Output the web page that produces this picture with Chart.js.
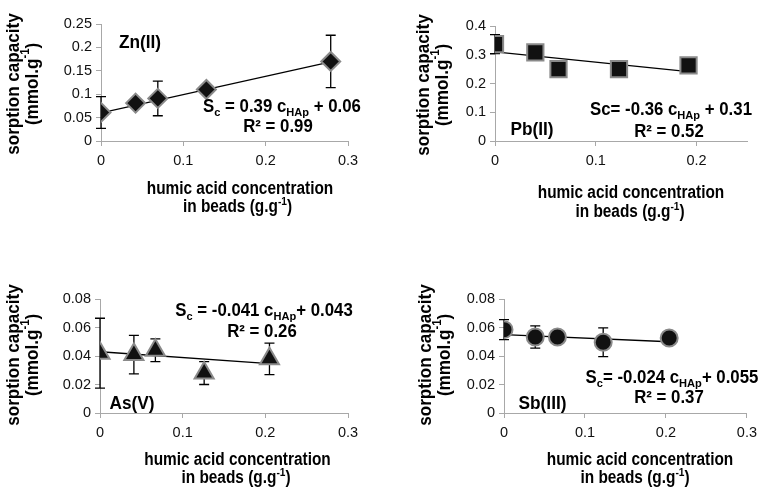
<!DOCTYPE html>
<html>
<head>
<meta charset="utf-8">
<script src="https://cdn.jsdelivr.net/npm/chart.js@4.4.1/dist/chart.umd.min.js"></script>
<style>
    html, body { margin: 0; padding: 0; background: #fff; }
    #wrap { position: relative; width: 763px; height: 488px; overflow: hidden; }
    .panel { position: absolute; }
</style>
</head>
<body>
<div id="wrap">
    <div class="panel" style="left:0;top:0;width:381px;height:244px"><canvas id="zn"></canvas></div>
    <div class="panel" style="left:381px;top:0;width:382px;height:244px"><canvas id="pb"></canvas></div>
    <div class="panel" style="left:0;top:244px;width:381px;height:244px"><canvas id="as"></canvas></div>
    <div class="panel" style="left:381px;top:244px;width:382px;height:244px"><canvas id="sb"></canvas></div>
</div>
<script>
// humic acid concentration in beads (g/g) and sorption capacity (mmol/g)
const znX = [0, 0.042, 0.069, 0.128, 0.279];
const znY = [0.061, 0.081, 0.091, 0.110, 0.170];
const znErr = [0.034, 0, 0.037, 0, 0.056];
const znTrendX = [0, 0.279];
const znTrendY = [0.060, 0.169];

const pbX = [0, 0.040, 0.063, 0.123, 0.192];
const pbY = [0.337, 0.308, 0.250, 0.250, 0.263];
const pbErr = [0.033, 0, 0, 0, 0];
const pbTrendX = [0, 0.192];
const pbTrendY = [0.310, 0.241];

const asX = [0, 0.041, 0.067, 0.126, 0.205];
const asY = [0.042, 0.041, 0.044, 0.028, 0.038];
const asErr = [0.0245, 0.0135, 0.008, 0.008, 0.011];
const asTrendX = [0, 0.205];
const asTrendY = [0.043, 0.0346];

const sbX = [0, 0.0386, 0.066, 0.1225, 0.204];
const sbY = [0.0585, 0.0533, 0.0533, 0.0496, 0.0526];
const sbErr = [0.007, 0.0078, 0, 0.0101, 0];
const sbTrendX = [0, 0.204];
const sbTrendY = [0.055, 0.050];

// tick labels
const xTicks = ['0', '0.1', '0.2', '0.3'];
const znYTicks = ['0', '0.05', '0.1', '0.15', '0.2', '0.25'];
const pbYTicks = ['0', '0.1', '0.2', '0.3', '0.4'];
const smallYTicks = ['0', '0.02', '0.04', '0.06', '0.08'];

const FONT = "'Liberation Sans', Arial, sans-serif";
const AXIS_GREY = '#a8a8a8';

function toPoints(xs, ys) {
    return xs.map((x, i) => ({ x: x, y: ys[i] }));
}

// draws a run of text pieces (sub / sup) centred on cx, sx squeezes it sideways
function drawRich(ctx, parts, cx, y, size, baseline, sx) {
    ctx.save();
    ctx.translate(cx, y);
    ctx.scale(sx || 1, 1);
    ctx.textBaseline = baseline || 'alphabetic';
    ctx.textAlign = 'left';
    let total = 0;
    parts.forEach(p => {
        const s = (p.sub || p.sup) ? size * 0.66 : size;
        ctx.font = 'bold ' + s + 'px ' + FONT;
        p.w = ctx.measureText(p.t).width;
        total += p.w;
    });
    let x = -total / 2;
    parts.forEach(p => {
        const s = (p.sub || p.sup) ? size * 0.66 : size;
        ctx.font = 'bold ' + s + 'px ' + FONT;
        let dy = 0;
        if (p.sub) dy = size * 0.2;
        if (p.sup) dy = -size * 0.38;
        ctx.fillText(p.t, x, dy);
        x += p.w;
    });
    ctx.restore();
}

const unitParts = () => [{ t: '(mmol.g' }, { t: '-1', sup: true }, { t: ')' }];
const beadParts = () => [{ t: 'in beads (g.g' }, { t: '-1', sup: true }, { t: ')' }];

// error bars, drawn behind the markers
const errorBars = {
    id: 'errorBars',
    beforeDatasetsDraw(chart) {
        const ds = chart.data.datasets[0];
        if (!ds.errors) return;
        const ctx = chart.ctx;
        const xs = chart.scales.x, ys = chart.scales.y;
        ctx.save();
        ctx.strokeStyle = '#000';
        ctx.lineWidth = 1.3;
        ds.data.forEach((p, i) => {
            const e = ds.errors[i];
            if (!e) return;
            const px = xs.getPixelForValue(p.x);
            const top = ys.getPixelForValue(p.y + e);
            const bot = ys.getPixelForValue(p.y - e);
            ctx.beginPath();
            ctx.moveTo(px, top); ctx.lineTo(px, bot);
            ctx.moveTo(px - 5, top); ctx.lineTo(px + 5, top);
            ctx.moveTo(px - 5, bot); ctx.lineTo(px + 5, bot);
            ctx.stroke();
        });
        ctx.restore();
    }
};

// axis titles, metal label and regression text
const panelText = {
    id: 'panelText',
    afterDraw(chart) {
        const o = chart.options.plugins.panelText;
        const ctx = chart.ctx;
        ctx.save();
        ctx.fillStyle = '#000';

        // y title, two rotated lines
        [[{ t: 'sorption capacity' }], unitParts()].forEach((parts, i) => {
            ctx.save();
            ctx.translate(o.yTitleX[i], o.yTitleY);
            ctx.rotate(-Math.PI / 2);
            drawRich(ctx, parts, 0, 0, 19, 'middle', 0.9);
            ctx.restore();
        });

        // x title
        drawRich(ctx, [{ t: 'humic acid concentration' }], o.xTitleX[0], o.xTitleY[0], 17.5, 'alphabetic', 0.88);
        drawRich(ctx, beadParts(), o.xTitleX[1], o.xTitleY[1], 17.5, 'alphabetic', 0.88);

        drawRich(ctx, [{ t: o.label }], o.labelPos[0], o.labelPos[1], 18, 'alphabetic', 0.96);
        drawRich(ctx, o.eq, o.eqPos[0], o.eqPos[1], 17.5, 'alphabetic', 0.96);
        drawRich(ctx, [{ t: o.r2 }], o.r2Pos[0], o.r2Pos[1], 17.5, 'alphabetic', 0.96);
        ctx.restore();
    }
};

function makePanel(id, cfg) {
    const grid = { drawOnChartArea: false, drawTicks: true, tickLength: 5, color: AXIS_GREY, lineWidth: 1 };
    const border = { color: AXIS_GREY, width: 1 };
    new Chart(document.getElementById(id), {
        type: 'scatter',
        data: {
            datasets: [{
                data: toPoints(cfg.x, cfg.y),
                errors: cfg.err,
                pointStyle: cfg.style,
                radius: cfg.radius,
                hoverRadius: cfg.radius,
                backgroundColor: '#111',
                borderColor: '#8a8a8a',
                borderWidth: 2
            }, {
                type: 'line',
                data: toPoints(cfg.tx, cfg.ty),
                borderColor: '#000',
                borderWidth: 1.3,
                pointRadius: 0,
                fill: false
            }]
        },
        options: {
            responsive: true,
            maintainAspectRatio: false,
            animation: false,
            events: [],
            layout: { padding: cfg.pad },
            plugins: {
                legend: { display: false },
                tooltip: { enabled: false },
                panelText: cfg.text
            },
            scales: {
                x: {
                    type: 'linear',
                    min: 0,
                    max: cfg.xMax,
                    grid: grid,
                    border: border,
                    afterFit: s => { s.height = 30; },
                    ticks: {
                        stepSize: 0.1,
                        includeBounds: false,
                        padding: 6,
                        color: '#111',
                        font: { family: FONT, size: 14.5 },
                        callback: (v, i) => xTicks[i]
                    }
                },
                y: {
                    min: 0,
                    max: cfg.yMax,
                    grid: grid,
                    border: border,
                    afterFit: s => { s.width = 50; },
                    ticks: {
                        stepSize: cfg.yStep,
                        padding: 4,
                        color: '#111',
                        font: { family: FONT, size: 14.5 },
                        callback: (v, i) => cfg.yTicks[i]
                    }
                }
            }
        },
        plugins: [errorBars, panelText]
    });
}

makePanel('zn', {
    x: znX, y: znY, err: znErr, tx: znTrendX, ty: znTrendY,
    style: 'rectRot', radius: 9.5,
    xMax: 0.3, yMax: 0.25, yStep: 0.05, yTicks: znYTicks,
    pad: { left: 51, right: 33, top: 24, bottom: 73 },
    text: {
        yTitleX: [14, 33], yTitleY: 84,
        xTitleX: [240, 237.5], xTitleY: [193.5, 211.5],
        label: 'Zn(II)', labelPos: [140, 48],
        eq: [{ t: 'S' }, { t: 'c', sub: true }, { t: ' = 0.39 c' }, { t: 'HAp', sub: true }, { t: ' + 0.06' }],
        eqPos: [282, 112],
        r2: 'R² = 0.99', r2Pos: [278, 132]
    }
});

makePanel('pb', {
    x: pbX, y: pbY, err: pbErr, tx: pbTrendX, ty: pbTrendY,
    style: 'rect', radius: 11.5,
    xMax: 0.25, yMax: 0.4, yStep: 0.1, yTicks: pbYTicks,
    pad: { left: 64, right: 16, top: 26, bottom: 73 },
    text: {
        yTitleX: [43, 62], yTitleY: 85,
        xTitleX: [250, 249], xTitleY: [198, 216.5],
        label: 'Pb(II)', labelPos: [151, 135],
        eq: [{ t: 'Sc= -0.36 c' }, { t: 'HAp', sub: true }, { t: ' + 0.31' }],
        eqPos: [290, 115],
        r2: 'R² = 0.52', r2Pos: [288, 136.5]
    }
});

makePanel('as', {
    x: asX, y: asY, err: asErr, tx: asTrendX, ty: asTrendY,
    style: 'triangle', radius: 11,
    xMax: 0.3, yMax: 0.08, yStep: 0.02, yTicks: smallYTicks,
    pad: { left: 50, right: 33, top: 55, bottom: 45 },
    text: {
        yTitleX: [14, 33], yTitleY: 111,
        xTitleX: [237.5, 236], xTitleY: [221, 239],
        label: 'As(V)', labelPos: [132, 165],
        eq: [{ t: 'S' }, { t: 'c', sub: true }, { t: ' = -0.041 c' }, { t: 'HAp', sub: true }, { t: '+ 0.043' }],
        eqPos: [264, 72],
        r2: 'R² = 0.26', r2Pos: [262, 93]
    }
});

makePanel('sb', {
    x: sbX, y: sbY, err: sbErr, tx: sbTrendX, ty: sbTrendY,
    style: 'circle', radius: 8.5,
    xMax: 0.3, yMax: 0.08, yStep: 0.02, yTicks: smallYTicks,
    pad: { left: 73, right: 11, top: 55, bottom: 45 },
    text: {
        yTitleX: [45, 64], yTitleY: 111,
        xTitleX: [259, 254], xTitleY: [221, 239],
        label: 'Sb(III)', labelPos: [161.5, 165],
        eq: [{ t: 'S' }, { t: 'c', sub: true }, { t: '= -0.024 c' }, { t: 'HAp', sub: true }, { t: '+ 0.055' }],
        eqPos: [291, 139],
        r2: 'R² = 0.37', r2Pos: [288, 159]
    }
});
</script>
</body>
</html>
